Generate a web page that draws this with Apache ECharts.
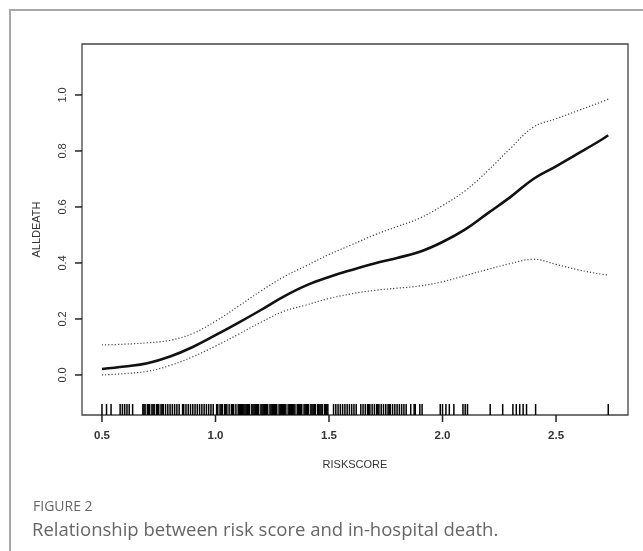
<!DOCTYPE html>
<html>
<head>
<meta charset="utf-8">
<script src="https://cdn.jsdelivr.net/npm/echarts@6/dist/echarts.min.js"></script>
<style>
html,body{margin:0;padding:0;background:#fff;}
#c{width:643px;height:551px;}
</style>
</head>
<body>
<div id="c"></div>
<script>
// ---- data ----
const riskScore = [0.5,0.6,0.7,0.8,0.9,1.0,1.1,1.2,1.3,1.4,1.5,1.6,1.7,1.8,1.9,2.0,2.1,2.2,2.3,2.4,2.5,2.6,2.7,2.73];
const fitDeath  = [0.021,0.030,0.042,0.066,0.100,0.142,0.186,0.232,0.280,0.320,0.350,0.375,0.398,0.418,0.440,0.475,0.520,0.578,0.636,0.700,0.745,0.792,0.840,0.856];
const upperCI   = [0.107,0.110,0.115,0.124,0.148,0.192,0.245,0.300,0.350,0.390,0.430,0.465,0.500,0.530,0.560,0.605,0.658,0.730,0.810,0.885,0.915,0.945,0.975,0.985];
const lowerCI   = [0.000,0.005,0.013,0.034,0.065,0.103,0.145,0.188,0.227,0.250,0.273,0.290,0.302,0.310,0.318,0.333,0.355,0.377,0.398,0.413,0.395,0.375,0.360,0.357];
const rugValues = [0.50,0.52,0.54,0.58,0.59,0.60,0.61,0.62,0.635,0.68,0.685,0.69,0.70,0.705,0.71,0.72,0.725,0.73,0.74,0.745,0.75,0.76,0.765,0.77,0.78,0.79,0.80,0.81,0.82,0.83,0.84,0.855,0.86,0.87,0.88,0.89,0.90,0.91,0.92,0.93,0.94,0.95,0.96,0.97,0.98,0.99,1.005,1.01,1.02,1.025,1.03,1.04,1.045,1.05,1.06,1.07,1.075,1.08,1.09,1.10,1.105,1.11,1.115,1.12,1.125,1.13,1.135,1.14,1.145,1.15,1.16,1.165,1.17,1.175,1.18,1.185,1.19,1.20,1.205,1.21,1.215,1.22,1.225,1.23,1.24,1.245,1.25,1.255,1.26,1.265,1.27,1.28,1.285,1.29,1.295,1.30,1.305,1.31,1.32,1.325,1.33,1.335,1.34,1.345,1.35,1.36,1.365,1.37,1.375,1.38,1.39,1.395,1.40,1.405,1.41,1.42,1.425,1.43,1.435,1.44,1.45,1.455,1.46,1.465,1.47,1.48,1.485,1.49,1.495,1.52,1.53,1.54,1.55,1.56,1.57,1.58,1.59,1.60,1.61,1.62,1.64,1.65,1.66,1.67,1.675,1.68,1.69,1.70,1.71,1.715,1.72,1.73,1.74,1.75,1.76,1.765,1.77,1.78,1.79,1.80,1.81,1.82,1.83,1.84,1.86,1.875,1.88,1.90,1.91,1.99,2.00,2.015,2.03,2.05,2.09,2.10,2.11,2.21,2.265,2.31,2.325,2.34,2.355,2.37,2.41,2.73];
const xTicks = [0.5,1.0,1.5,2.0,2.5];
const yTicks = [0.0,0.2,0.4,0.6,0.8,1.0];
const X_MIN = 0.412, X_MAX = 2.817;
const Y_MIN = -0.143, Y_MAX = 1.182;

const pairs = (ys) => riskScore.map((x,i)=>[x, ys[i]]);

const chart = echarts.init(document.getElementById('c'), null, {renderer:'canvas'});
const labelFont = '"Liberation Sans", Arial, sans-serif';
chart.setOption({
  backgroundColor:'#fff',
  animation:false,
  grid:{left:82, right:15, top:44, bottom:136, show:true, borderColor:'#444', borderWidth:1.3, backgroundColor:'transparent'},
  xAxis:{
    type:'value', min:X_MIN, max:X_MAX,
    name:'RISKSCORE', nameLocation:'middle', nameGap:44,
    nameTextStyle:{fontFamily:labelFont, fontSize:11, color:'#333'},
    axisLine:{show:false, onZero:false},
    splitLine:{show:false},
    axisTick:{show:false},
    axisLabel:{customValues:xTicks, formatter:v=>v.toFixed(1), margin:15, fontFamily:labelFont, fontSize:11.5, fontWeight:'bold', color:'#333'}
  },
  yAxis:{
    type:'value', min:Y_MIN, max:Y_MAX,
    name:'ALLDEATH', nameLocation:'middle', nameGap:40, nameRotate:90,
    nameTextStyle:{fontFamily:labelFont, fontSize:11, color:'#333'},
    axisLine:{show:false, onZero:false},
    splitLine:{show:false},
    axisTick:{show:false},
    axisLabel:{customValues:yTicks, formatter:v=>v.toFixed(1), rotate:90, margin:14, fontFamily:labelFont, fontSize:11, color:'#333'}
  },
  series:[
    {type:'line', data:pairs(upperCI), showSymbol:false, smooth:0.4, lineStyle:{color:'#444', width:1.2, type:[1.2,2]}},
    {type:'line', data:pairs(lowerCI), showSymbol:false, smooth:0.4, lineStyle:{color:'#444', width:1.2, type:[1.2,2]}},
    {type:'line', data:pairs(fitDeath), showSymbol:false, smooth:0.4, lineStyle:{color:'#111', width:2.6}},
    {type:'custom', data:rugValues.map(v=>[v]), clip:false,
      renderItem:(params, api)=>{
        const p = api.coord([api.value(0), Y_MIN]);
        return {type:'line', shape:{x1:p[0], y1:p[1], x2:p[0], y2:p[1]-11}, style:{stroke:'#000', lineWidth:1.5}};
      }}
  ],
  graphic:[
    {type:'rect', shape:{x:10, y:10, width:700, height:620}, style:{fill:'none', stroke:'#a8a8a8', lineWidth:2}, silent:true},
    {type:'text', left:33, top:500, style:{text:'FIGURE 2', fontFamily:'"Open Sans", sans-serif', fontSize:14, fill:'#666'}},
    {type:'text', left:32, top:521, style:{text:'Relationship between risk score and in-hospital death.', fontFamily:'"Open Sans", sans-serif', fontSize:18.5, fill:'#666'}}
  ]
});

// outward R-style tick marks, positioned through the chart's own scales
const tickEls = [];
xTicks.forEach(v => {
  const p = chart.convertToPixel({gridIndex:0}, [v, Y_MIN]);
  tickEls.push({type:'line', z:100, shape:{x1:p[0], y1:p[1], x2:p[0], y2:p[1]+7}, style:{stroke:'#222', lineWidth:1.5}});
});
yTicks.forEach(v => {
  const p = chart.convertToPixel({gridIndex:0}, [X_MIN, v]);
  tickEls.push({type:'line', z:100, shape:{x1:p[0], y1:p[1], x2:p[0]-7, y2:p[1]}, style:{stroke:'#222', lineWidth:1.5}});
});
chart.setOption({graphic:[
  {type:'rect', shape:{x:10, y:10, width:700, height:620}, style:{fill:'none', stroke:'#a8a8a8', lineWidth:2}, silent:true},
  {type:'text', left:33, top:500, style:{text:'FIGURE 2', fontFamily:'"Open Sans", sans-serif', fontSize:14, fill:'#666'}},
  {type:'text', left:32, top:521, style:{text:'Relationship between risk score and in-hospital death.', fontFamily:'"Open Sans", sans-serif', fontSize:18.5, fill:'#666'}},
  ...tickEls
]}, {replaceMerge:['graphic']});
</script>
</body>
</html>
